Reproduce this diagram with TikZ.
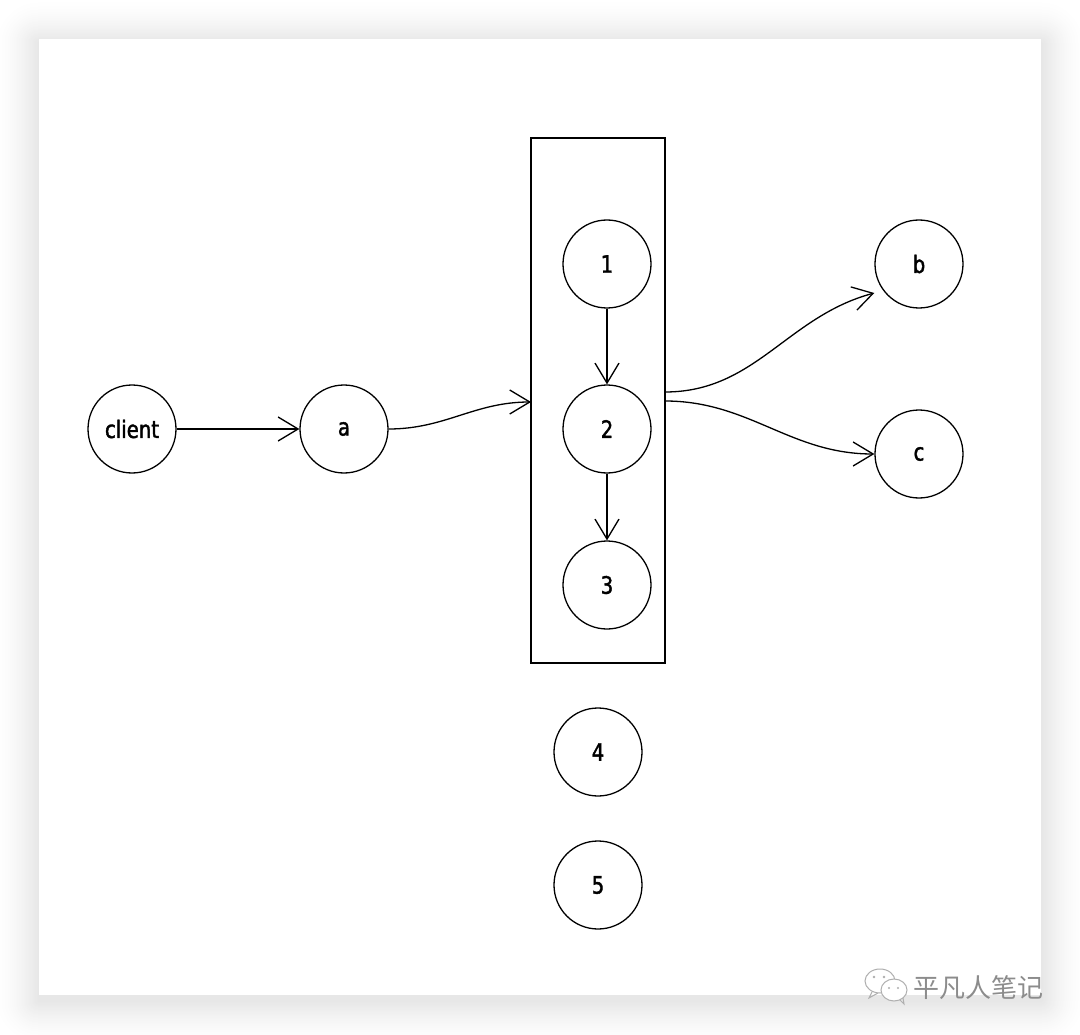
\documentclass[tikz,border=0pt]{standalone}
\usepackage{fontspec}
\setmainfont{DejaVu Sans}
\newfontfamily\lblfont{DejaVu Sans}[FakeStretch=0.82, FakeBold=1.6]
\newfontfamily\cjk{Noto Sans CJK SC}
\usetikzlibrary{arrows.meta}
\definecolor{wm}{HTML}{8C8C8C}
\tikzset{
  vtx/.style={circle, draw, line width=1.3pt, minimum size=88pt, inner sep=0pt,
              font=\lblfont\fontsize{24}{28}\selectfont},
  grpbox/.style={draw, line width=1.3pt, minimum width=134pt, minimum height=525pt, inner sep=0pt},
  conn/.style={line width=1.3pt, -{Straight Barb[length=20pt,width=24pt,line width=1.3pt]}},
}
\begin{document}
\begin{tikzpicture}[x=1pt,y=-1pt]
\useasboundingbox (0,0) rectangle (1080,1035);
\fill[white] (0,0) rectangle (1080,1035);
% soft shadow of the card (outermost first, light to darker)
\foreach \i in {44,43,...,1}{
  \pgfmathsetmacro{\shd}{9.5*((45-\i)/44)^1.6}
  \fill[black!\shd, rounded corners=\i pt] (39-\i,39-\i+5) rectangle (1041+\i,995+\i+5);
}
\fill[white] (39,39) rectangle (1041,995);

% nodes
\node[grpbox] (grp) at (598,400.5) {};
\node[vtx] (client) at (132,429) {client};
\node[vtx] (a) at (344,429) {a};
\node[vtx] (n1) at (607,264) {1};
\node[vtx] (n2) at (607,429) {2};
\node[vtx] (n3) at (607,585) {3};
\node[vtx] (b) at (919,264) {b};
\node[vtx] (c) at (919,454) {c};
\node[vtx] (n4) at (598,752) {4};
\node[vtx] (n5) at (598,885) {5};

\coordinate (gin) at (531,402);
\coordinate (goutb) at (665,392);
\coordinate (goutc) at (665,401);

% connectors
\draw[conn] (client) -- (a);
\draw[conn] (a.east) to[out=0,in=180] (gin);
\draw[conn] (n1) -- (n2);
\draw[conn] (n2) -- (n3);
\draw[conn] (goutb) to[out=0,in=195] (b.west |- 0,293);
\draw[conn] (goutc) to[out=0,in=180] (c.west);

% watermark
\begin{scope}[line width=1pt, draw=wm!70]
  \filldraw[fill=white] (880,981) ellipse[x radius=15, y radius=12];
  \draw (872,992) -- (869,998) -- (878,993);
  \filldraw[fill=white] (894,990) ellipse[x radius=13, y radius=11];
  \draw (900,1000) -- (904,1004) -- (903,998);
  \fill[wm!70] (874,977) circle (1.3) (884,977) circle (1.3);
  \fill[wm!70] (889,988) circle (1.2) (898,988) circle (1.2);
\end{scope}
\node[anchor=west, text=wm, font=\cjk\fontsize{26}{28}\selectfont, inner sep=0pt] (wmtext) at (913,988) {平凡人笔记};
\end{tikzpicture}
\end{document}
